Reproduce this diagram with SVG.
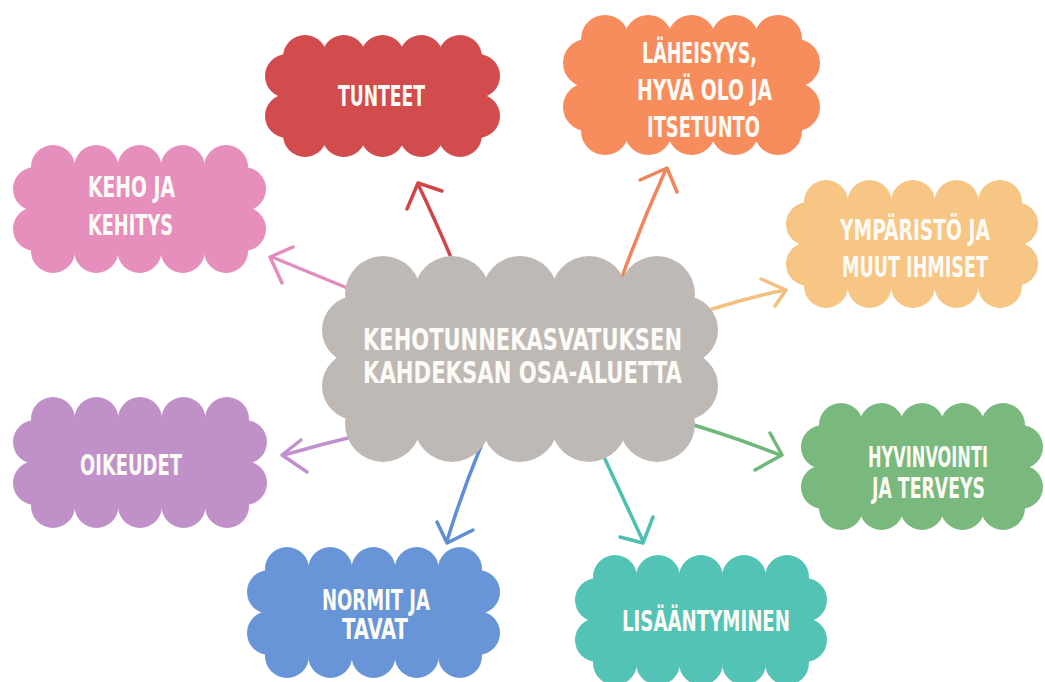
<svg xmlns="http://www.w3.org/2000/svg" width="1045" height="682" viewBox="0 0 1045 682">
<style>
.t{font-family:"Liberation Sans Narrow","DejaVu Sans Condensed","Liberation Sans",sans-serif;font-weight:bold;font-size:28px;fill:#fdfbf6;}
.tc{font-size:31px;}
.a{fill:none;stroke-width:3.5;stroke-linecap:round;stroke-linejoin:round;}
.red{fill:#d24b4d}.ora{fill:#f78c5c}.pin{fill:#e68fbd}.pea{fill:#f7c584}.gry{fill:#bfb9b5}.pur{fill:#bf91c8}.grn{fill:#79b97d}.blu{fill:#6895d7}.tea{fill:#53c3b5}
</style>
<rect width="1045" height="682" fill="#ffffff"/>
<g id="connectors">
<g class="a" stroke="#d14749"><path d="M450,255 Q436,222 418,184"/><polyline points="407,209 418,183 442,191"/></g>
<g class="a" stroke="#f0855a"><path d="M622,277 Q642,222 666,169"/><polyline points="640,180 667,168 677,192"/></g>
<g class="a" stroke="#e38dbf"><path d="M357,292 Q316,275 272,257"/><polyline points="293,247 270,257 282,283"/></g>
<g class="a" stroke="#f3c07f"><path d="M712,309 Q750,297 785,290"/><polyline points="761,279 786,290 775,306"/></g>
<g class="a" stroke="#c090cf"><path d="M360,435 Q322,444 284,455"/><polyline points="301,440 282,455 307,472"/></g>
<g class="a" stroke="#6fb77a"><path d="M680,421 Q732,436 780,455"/><polyline points="770,433 782,455 755,470"/></g>
<g class="a" stroke="#5f8dd6"><path d="M481,446 Q462,492 447,541"/><polyline points="437,522 447,543 473,530"/></g>
<g class="a" stroke="#4ebfb1"><path d="M604,457 Q624,500 643,541"/><polyline points="620,537 643,543 653,517"/></g>
</g>
<g id="node-tunteet" class="red">
<rect x="287" y="57" width="191" height="78"/>
<circle cx="305" cy="57" r="22"/><circle cx="343.75" cy="57" r="22"/><circle cx="382.5" cy="57" r="22"/><circle cx="421.25" cy="57" r="22"/><circle cx="460" cy="57" r="22"/>
<circle cx="305" cy="135" r="22"/><circle cx="343.75" cy="135" r="22"/><circle cx="382.5" cy="135" r="22"/><circle cx="421.25" cy="135" r="22"/><circle cx="460" cy="135" r="22"/>
<circle cx="287" cy="76" r="22"/><circle cx="287" cy="116" r="22"/><circle cx="478" cy="76" r="22"/><circle cx="478" cy="116" r="22"/>
<text class="t" x="338" y="106" textLength="87" lengthAdjust="spacingAndGlyphs">TUNTEET</text>
</g>
<g id="node-laheisyys" class="ora">
<rect x="587" y="39" width="209" height="92"/>
<circle cx="605" cy="39" r="24"/><circle cx="648.25" cy="39" r="24"/><circle cx="691.5" cy="39" r="24"/><circle cx="734.75" cy="39" r="24"/><circle cx="778" cy="39" r="24"/>
<circle cx="605" cy="131" r="24"/><circle cx="648.25" cy="131" r="24"/><circle cx="691.5" cy="131" r="24"/><circle cx="734.75" cy="131" r="24"/><circle cx="778" cy="131" r="24"/>
<circle cx="587" cy="63" r="24"/><circle cx="587" cy="107" r="24"/><circle cx="796" cy="63" r="24"/><circle cx="796" cy="107" r="24"/>
<text class="t" x="642" y="63" textLength="115" lengthAdjust="spacingAndGlyphs">LÄHEISYYS,</text>
<text class="t" x="637" y="100" textLength="135" lengthAdjust="spacingAndGlyphs">HYVÄ OLO JA</text>
<text class="t" x="647" y="137" textLength="113" lengthAdjust="spacingAndGlyphs">ITSETUNTO</text>
</g>
<g id="node-keho" class="pin">
<rect x="35" y="167" width="209" height="84"/>
<circle cx="53" cy="167" r="22"/><circle cx="96.25" cy="167" r="22"/><circle cx="139.5" cy="167" r="22"/><circle cx="182.75" cy="167" r="22"/><circle cx="226" cy="167" r="22"/>
<circle cx="53" cy="251" r="22"/><circle cx="96.25" cy="251" r="22"/><circle cx="139.5" cy="251" r="22"/><circle cx="182.75" cy="251" r="22"/><circle cx="226" cy="251" r="22"/>
<circle cx="35" cy="189" r="22"/><circle cx="35" cy="229" r="22"/><circle cx="244" cy="189" r="22"/><circle cx="244" cy="229" r="22"/>
<text class="t" x="88" y="197" textLength="87" lengthAdjust="spacingAndGlyphs">KEHO JA</text>
<text class="t" x="88" y="235" textLength="85" lengthAdjust="spacingAndGlyphs">KEHITYS</text>
</g>
<g id="node-ymparisto" class="pea">
<rect x="808" y="202" width="208" height="83"/>
<circle cx="826" cy="202" r="22"/><circle cx="869.5" cy="202" r="22"/><circle cx="913" cy="202" r="22"/><circle cx="956.5" cy="202" r="22"/><circle cx="1000" cy="202" r="22"/>
<circle cx="826" cy="286" r="22"/><circle cx="869.5" cy="286" r="22"/><circle cx="913" cy="286" r="22"/><circle cx="956.5" cy="286" r="22"/><circle cx="1000" cy="286" r="22"/>
<circle cx="808" cy="224" r="22"/><circle cx="808" cy="264" r="22"/><circle cx="1016" cy="224" r="22"/><circle cx="1016" cy="264" r="22"/>
<text class="t" x="840" y="240" textLength="150" lengthAdjust="spacingAndGlyphs">YMPÄRISTÖ JA</text>
<text class="t" x="842" y="277" textLength="146" lengthAdjust="spacingAndGlyphs">MUUT IHMISET</text>
</g>
<g id="node-center" class="gry">
<rect x="356" y="294" width="328" height="130"/>
<circle cx="383" cy="294" r="38"/><circle cx="452" cy="294" r="38"/><circle cx="520" cy="294" r="38"/><circle cx="589" cy="294" r="38"/><circle cx="657" cy="294" r="38"/>
<circle cx="383" cy="424" r="38"/><circle cx="452" cy="424" r="38"/><circle cx="520" cy="424" r="38"/><circle cx="589" cy="424" r="38"/><circle cx="657" cy="424" r="38"/>
<circle cx="356" cy="330" r="34"/><circle cx="356" cy="386" r="34"/><circle cx="684" cy="330" r="34"/><circle cx="684" cy="386" r="34"/>
<text class="t tc" x="363" y="350" textLength="319" lengthAdjust="spacingAndGlyphs">KEHOTUNNEKASVATUKSEN</text>
<text class="t tc" x="363" y="383" textLength="319" lengthAdjust="spacingAndGlyphs">KAHDEKSAN OSA-ALUETTA</text>
</g>
<g id="node-oikeudet" class="pur">
<rect x="35" y="419" width="210" height="87"/>
<circle cx="53" cy="419" r="22"/><circle cx="96.5" cy="419" r="22"/><circle cx="140" cy="419" r="22"/><circle cx="183.5" cy="419" r="22"/><circle cx="227" cy="419" r="22"/>
<circle cx="53" cy="506" r="22"/><circle cx="96.5" cy="506" r="22"/><circle cx="140" cy="506" r="22"/><circle cx="183.5" cy="506" r="22"/><circle cx="227" cy="506" r="22"/>
<circle cx="35" cy="442" r="22"/><circle cx="35" cy="483" r="22"/><circle cx="245" cy="442" r="22"/><circle cx="245" cy="483" r="22"/>
<text class="t" x="80" y="475" textLength="102" lengthAdjust="spacingAndGlyphs">OIKEUDET</text>
</g>
<g id="node-hyvinvointi" class="grn">
<rect x="823" y="425" width="198" height="83"/>
<circle cx="841" cy="425" r="22"/><circle cx="881.5" cy="425" r="22"/><circle cx="922" cy="425" r="22"/><circle cx="962.5" cy="425" r="22"/><circle cx="1003" cy="425" r="22"/>
<circle cx="841" cy="508" r="22"/><circle cx="881.5" cy="508" r="22"/><circle cx="922" cy="508" r="22"/><circle cx="962.5" cy="508" r="22"/><circle cx="1003" cy="508" r="22"/>
<circle cx="823" cy="447" r="22"/><circle cx="823" cy="487" r="22"/><circle cx="1021" cy="447" r="22"/><circle cx="1021" cy="487" r="22"/>
<text class="t" x="868" y="467" textLength="120" lengthAdjust="spacingAndGlyphs">HYVINVOINTI</text>
<text class="t" x="872" y="498" textLength="113" lengthAdjust="spacingAndGlyphs">JA TERVEYS</text>
</g>
<g id="node-normit" class="blu">
<rect x="269" y="569" width="209" height="87"/>
<circle cx="287" cy="569" r="22"/><circle cx="330.25" cy="569" r="22"/><circle cx="373.5" cy="569" r="22"/><circle cx="416.75" cy="569" r="22"/><circle cx="460" cy="569" r="22"/>
<circle cx="287" cy="656" r="22"/><circle cx="330.25" cy="656" r="22"/><circle cx="373.5" cy="656" r="22"/><circle cx="416.75" cy="656" r="22"/><circle cx="460" cy="656" r="22"/>
<circle cx="269" cy="592" r="22"/><circle cx="269" cy="633" r="22"/><circle cx="478" cy="592" r="22"/><circle cx="478" cy="633" r="22"/>
<text class="t" x="322" y="610" textLength="108" lengthAdjust="spacingAndGlyphs">NORMIT JA</text>
<text class="t" x="342" y="639" textLength="66" lengthAdjust="spacingAndGlyphs">TAVAT</text>
</g>
<g id="node-lisaantyminen" class="tea">
<rect x="597" y="577" width="208" height="86"/>
<circle cx="615" cy="577" r="22"/><circle cx="658" cy="577" r="22"/><circle cx="701" cy="577" r="22"/><circle cx="744" cy="577" r="22"/><circle cx="787" cy="577" r="22"/>
<circle cx="615" cy="663" r="22"/><circle cx="658" cy="663" r="22"/><circle cx="701" cy="663" r="22"/><circle cx="744" cy="663" r="22"/><circle cx="787" cy="663" r="22"/>
<circle cx="597" cy="600" r="22"/><circle cx="597" cy="640" r="22"/><circle cx="805" cy="600" r="22"/><circle cx="805" cy="640" r="22"/>
<text class="t" x="622" y="631" textLength="168" lengthAdjust="spacingAndGlyphs">LISÄÄNTYMINEN</text>
</g>
</svg>
